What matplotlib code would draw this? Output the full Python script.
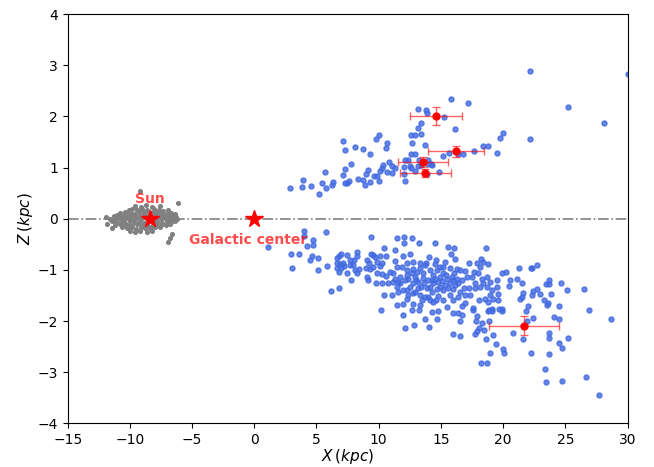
import numpy as np
import matplotlib
matplotlib.use("Agg")
import matplotlib.pyplot as plt

# blue stars above the plane (x, z in kpc)
upper_x = [7.1, 10.05, 9.78, 10.67, 7.27, 8.12, 8.74, 10.6, 9.28, 7.75, 10.8,
           10.35, 10.27, 11.04, 11.31, 10.1, 10.64, 11.09,
           7.3, 9.1, 5.66, 7.15, 8.95, 9.65, 9.9, 8.3, 8.74, 7.6, 7.45, 7.3,
           6.3, 6.25, 9.3, 10.05, 8.87, 3.94, 3.86, 4.58, 5.44, 5.79, 2.87, 5.23,
           15.79, 17.18, 13.16, 13.8, 13.86, 15.25, 13.38, 13.18, 16.13, 12.57,
           12.9, 13.4, 12.7, 13.75, 20.0, 19.73, 18.36, 18.76, 17.66, 19.53,
           15.17, 15.63, 12.6, 12.9, 16.8, 16.4, 12.1, 12.35, 13.2, 13.96,
           12.03, 12.51, 12.62, 12.94, 13.16, 13.37, 13.96, 14.18, 14.28,
           12.06, 12.1, 14.85, 13.9,
           22.19, 30.0, 25.2, 28.1, 22.19]
upper_z = [1.53, 1.64, 1.55, 1.48, 1.34, 1.40, 1.36, 1.39, 1.26, 1.08, 1.10,
           1.05, 1.00, 1.03, 0.99, 0.93, 0.92, 0.89,
           0.97, 0.95, 0.91, 0.86, 0.87, 0.84, 0.84, 0.77, 0.76, 0.73, 0.70, 0.70,
           0.72, 0.66, 0.71, 0.73, 0.66, 0.76, 0.62, 0.65, 0.70, 0.60, 0.60, 0.48,
           2.34, 2.26, 2.14, 2.12, 2.06, 1.99, 1.88, 1.78, 1.75, 1.64,
           1.64, 1.65, 1.48, 1.44, 1.67, 1.57, 1.42, 1.42, 1.32, 1.28,
           1.22, 1.28, 1.26, 1.26, 1.26, 1.26, 1.15, 1.15, 1.15, 1.15,
           1.02, 1.03, 0.99, 0.94, 1.03, 1.05, 1.07, 1.07, 1.05,
           0.87, 0.74, 0.91, 0.88,
           2.89, 2.84, 2.18, 1.88, 1.55]

# blue stars below the plane
lower_x = [1.13, 3.97, 4.02, 5.76, 4.72, 4.21, 4.69, 9.41, 11.44, 2.95, 3.62,
           4.61, 4.45, 5.12, 3.06, 5.15, 5.87, 6.14, 6.78, 10.16, 10.43, 11.28,
           6.62, 6.94, 6.84, 7.48, 8.28, 8.28, 6.67, 6.89, 7.16, 7.21, 7.69,
           8.01, 7.91, 7.69, 6.62, 6.84, 6.94, 7.43, 8.12, 8.39, 8.23, 7.75,
           9.35, 9.52, 9.70, 10.10, 10.59, 9.84, 9.03, 9.25, 9.57, 8.98, 9.30,
           9.03, 9.17, 9.84, 10.24, 10.56, 10.91, 9.76, 10.24, 10.43, 11.04,
           11.44, 11.58, 11.31, 11.58, 11.18, 10.77, 11.31, 11.50, 11.18, 10.10,
           10.24, 11.50,
           12.03, 12.65, 12.06, 13.26, 14.50, 15.60, 16.08, 18.60, 15.84, 16.13,
           12.54, 11.92, 14.07, 14.60, 15.30, 14.50, 15.19, 13.32, 13.80, 13.72,
           17.26, 18.25, 18.41, 18.81, 17.93, 18.14, 17.66, 16.53, 16.96, 16.32,
           16.05, 15.41, 12.25, 11.84, 12.78, 13.05, 11.71, 12.25, 12.92, 13.59,
           14.39, 15.19, 14.66, 13.99, 14.39, 14.79, 15.11, 15.46, 16.00, 16.27,
           15.73, 14.93, 14.66, 14.12, 13.64, 13.18, 12.78, 12.51, 12.25, 11.92,
           11.71, 12.92, 13.32, 13.72, 14.26, 15.19, 16.00, 16.40, 16.67, 17.07,
           17.47, 18.01, 18.27, 18.68, 18.94, 19.48, 19.88, 20.23, 20.55, 21.09,
           20.50, 19.48, 18.68, 18.14, 17.74, 17.28, 16.85, 16.40, 16.93, 17.55,
           18.09, 18.54, 18.81, 19.21, 19.61, 19.56, 19.08, 18.89, 17.87, 16.72,
           16.00, 15.46, 15.19, 14.60, 14.39, 13.99, 13.32, 12.78, 12.25, 11.98,
           14.79, 14.26, 13.72, 12.65, 11.92, 19.88, 19.67, 21.30,
           12.11, 12.38, 12.65, 13.00, 13.37, 13.85, 13.53, 14.26, 14.52, 14.93,
           15.33, 15.60, 15.86, 16.13, 13.18, 12.73, 12.38, 13.45, 14.12, 14.79,
           15.73, 16.00, 16.53, 16.93, 17.34, 17.74, 18.41, 19.08, 18.94, 14.93,
           15.73, 14.12, 13.32, 12.78, 12.25,
           22.22, 22.35, 22.75, 21.52, 23.45, 23.69, 23.72, 24.68, 25.11, 26.50,
           22.70, 22.43, 22.30, 21.63, 21.49, 21.36, 22.99, 23.85, 23.29, 23.61,
           23.56, 22.03, 21.82, 24.49, 26.88, 24.12, 24.52, 22.40, 28.65,
           12.14, 12.86, 13.24, 14.01, 14.71, 16.37, 16.72, 16.51, 16.00, 16.53,
           17.82, 18.27, 18.03, 17.87, 17.77, 18.46, 18.89, 18.65, 19.21, 19.43,
           18.97, 19.96, 20.10, 18.25, 18.68, 20.82, 18.78, 19.11, 19.91, 17.60,
           21.90, 23.66, 23.66, 21.63, 24.47, 24.76, 25.19, 22.27, 23.66, 23.37,
           23.42, 24.74, 26.67, 27.68]
lower_z = [-0.55, -0.24, -0.33, -0.25, -0.42, -0.53, -0.52, -0.35, -0.37, -0.68, -0.69,
           -0.73, -0.81, -0.76, -0.96, -1.00, -0.93, -1.42, -1.36, -1.79, -0.58, -0.61,
           -0.76, -0.68, -0.72, -0.70, -0.65, -0.72, -0.87, -0.89, -0.87, -0.93, -0.81,
           -0.80, -0.91, -0.91, -0.97, -1.04, -0.97, -1.07, -1.00, -0.98, -1.06, -1.20,
           -0.68, -0.70, -0.74, -0.73, -0.72, -0.84, -0.81, -0.87, -0.94, -0.97, -0.99,
           -1.13, -1.20, -1.07, -1.08, -1.12, -1.04, -1.26, -1.25, -1.49, -1.49,
           -1.33, -1.43, -1.17, -1.23, -1.23, -1.26, -0.82, -0.94, -1.07, -0.93,
           -0.87, -1.69,
           -0.35, -0.38, -0.47, -0.48, -0.48, -0.55, -0.57, -0.57, -0.69, -0.78,
           -0.69, -0.72, -0.74, -0.81, -0.84, -0.89, -0.94, -0.97, -0.86, -0.91,
           -0.87, -0.78, -0.84, -0.89, -0.86, -0.94, -1.05, -1.00, -1.02, -0.99,
           -1.07, -1.10, -1.00, -0.94, -0.99, -1.04, -1.13, -1.10, -1.13, -1.07,
           -1.10, -1.07, -1.00, -1.20, -1.26, -1.23, -1.22, -1.17, -1.20, -1.17,
           -1.26, -1.33, -1.38, -1.33, -1.26, -1.23, -1.26, -1.33, -1.40, -1.40,
           -1.26, -1.43, -1.49, -1.53, -1.43, -1.40, -1.38, -1.26, -1.20, -1.13,
           -1.13, -1.07, -1.17, -1.13, -1.23, -1.20, -1.07, -1.04, -1.20, -1.17,
           -1.32, -1.33, -1.33, -1.33, -1.36, -1.36, -1.36, -1.54, -1.64, -1.75,
           -1.58, -1.56, -1.62, -1.56, -1.58, -1.47, -1.77, -1.79, -1.90, -1.71,
           -1.85, -1.72, -1.59, -1.58, -1.62, -1.54, -1.69, -1.66, -1.56, -1.66,
           -1.80, -1.82, -1.97, -1.79, -1.88, -1.77, -1.77, -0.97,
           -1.20, -1.17, -1.07, -1.19, -1.33, -1.36, -1.15, -1.19, -1.17, -1.13,
           -1.30, -1.36, -1.13, -1.30, -1.36, -1.45, -1.49, -1.59, -1.59, -1.51,
           -1.49, -1.59, -1.43, -1.49, -1.49, -1.26, -1.26, -1.40, -1.49, -0.94,
           -0.97, -1.00, -0.87, -0.84, -0.87,
           -0.97, -0.97, -0.91, -1.26, -1.28, -1.28, -1.20, -1.26, -1.40, -1.37,
           -1.37, -1.41, -1.50, -1.45, -1.53, -1.57, -1.47, -1.47, -1.58, -1.64,
           -1.68, -1.71, -1.80, -1.71, -1.78, -1.92, -1.96, -1.95, -1.97,
           -2.13, -2.07, -1.79, -2.11, -1.97, -1.85, -1.89, -1.99, -2.26, -2.30,
           -2.00, -2.03, -2.13, -2.19, -2.26, -2.17, -2.00, -2.35, -2.28, -2.45,
           -2.62, -2.54, -2.63, -2.83, -2.83, -2.23, -1.80, -1.80, -1.81, -1.79,
           -2.00, -2.23, -2.34, -2.36, -2.43, -2.52, -2.34, -2.63, -2.65, -2.93,
           -3.19, -3.17, -3.09, -3.45]

# local stars around the Sun
local_x = [-9.6, -9.1, -8.7, -8.2, -7.6,
           -10.1, -9.8, -9.4, -9.0, -8.6, -8.1, -7.7, -7.3, -6.9,
           -10.8, -10.4, -10.0, -9.7, -9.3, -8.9, -8.5, -8.2, -7.8, -7.4, -7.0, -6.7, -6.4,
           -11.3, -11.0, -10.6, -10.3, -9.9, -9.6, -9.2, -8.8, -8.4, -8.0, -7.7, -7.3, -6.9, -6.6, -6.3,
           -11.6, -11.2, -10.9, -10.5, -10.2, -9.8, -9.5, -9.1, -8.7, -8.3, -7.9, -7.5, -7.2, -6.8, -6.5, -6.2,
           -11.4, -11.1, -10.7, -10.4, -10.0, -9.7, -9.3, -8.9, -8.5, -8.1, -7.8, -7.4, -7.0, -6.7, -6.4,
           -11.2, -10.8, -10.5, -10.1, -9.8, -9.4, -9.0, -8.6, -8.2, -7.9, -7.5, -7.1, -6.8,
           -10.6, -10.2, -9.9, -9.5, -9.1, -8.8, -8.4, -8.0, -7.6,
           -11.4, -10.0, -9.6, -9.2, -8.6, -8.2,
           -9.2, -6.1, -6.6, -6.8, -6.9, -11.8, -11.9]
local_z = [0.25, 0.23, 0.27, 0.22, 0.24,
           0.17, 0.19, 0.18, 0.20, 0.17, 0.19, 0.18, 0.16, 0.17,
           0.11, 0.13, 0.12, 0.10, 0.13, 0.12, 0.14, 0.11, 0.13, 0.12, 0.10, 0.11, 0.09,
           0.05, 0.07, 0.06, 0.08, 0.05, 0.07, 0.06, 0.08, 0.05, 0.07, 0.06, 0.08, 0.05, 0.06, 0.04,
           0.0, -0.01, 0.02, 0.0, 0.01, -0.01, 0.02, 0.0, 0.01, -0.02, 0.01, 0.0, 0.02, -0.01, 0.01, 0.0,
           -0.05, -0.07, -0.06, -0.08, -0.05, -0.07, -0.06, -0.08, -0.05, -0.07, -0.06, -0.08, -0.05, -0.06, -0.04,
           -0.13, -0.11, -0.13, -0.12, -0.14, -0.11, -0.13, -0.12, -0.14, -0.11, -0.13, -0.12, -0.10,
           -0.17, -0.19, -0.18, -0.20, -0.17, -0.19, -0.18, -0.17, -0.16,
           -0.19, -0.24, -0.26, -0.23, -0.25, -0.23,
           0.54, 0.31, -0.30, -0.38, -0.45, -0.10, 0.03]

# objects with error bars
err_x = [14.6, 16.24, 13.56, 13.75, 21.68]
err_z = [2.01, 1.32, 1.11, 0.90, -2.09]
err_xe = [2.1, 2.26, 2.0, 2.05, 2.8]
err_ze = [0.18, 0.11, 0.10, 0.08, 0.19]

sun_x, sun_z = -8.4, 0.0
gc_x, gc_z = 0.0, 0.0

fig = plt.figure(figsize=(6.54, 4.67), dpi=100)
ax = fig.add_axes([0.1035, 0.0936, 0.856, 0.876])

ax.axhline(0, color="gray", linestyle="-.", linewidth=1.2, zorder=1)
ax.scatter(local_x, local_z, s=7, color="gray", zorder=2)
ax.scatter(upper_x, upper_z, s=13, color="royalblue", alpha=0.8, zorder=2)
ax.scatter(lower_x, lower_z, s=13, color="royalblue", alpha=0.8, zorder=2)
ax.errorbar(err_x, err_z, xerr=err_xe, yerr=err_ze, fmt="o", color="red",
            ms=5, ecolor=(1, 0, 0, 0.6), elinewidth=1, capsize=3, zorder=4)

ax.plot(sun_x, sun_z, marker="*", color="red", ms=13, zorder=5)
ax.plot(gc_x, gc_z, marker="*", color="red", ms=13, zorder=5)
ax.text(sun_x, 0.38, "Sun", color="red", alpha=0.7, fontsize=10,
        fontweight="bold", ha="center", va="center")
ax.text(-0.5, -0.42, "Galactic center", color="red", alpha=0.7, fontsize=10,
        fontweight="bold", ha="center", va="center")

ax.set_xlim(-15, 30)
ax.set_ylim(-4, 4)
ax.set_xticks(range(-15, 31, 5))
ax.set_yticks(range(-4, 5))
ax.tick_params(labelsize=10)
ax.set_xlabel(r"$X\,(kpc)$", fontsize=11, labelpad=0)
ax.set_ylabel(r"$Z\,(kpc)$", fontsize=11, labelpad=2)

plt.savefig("out.png")
